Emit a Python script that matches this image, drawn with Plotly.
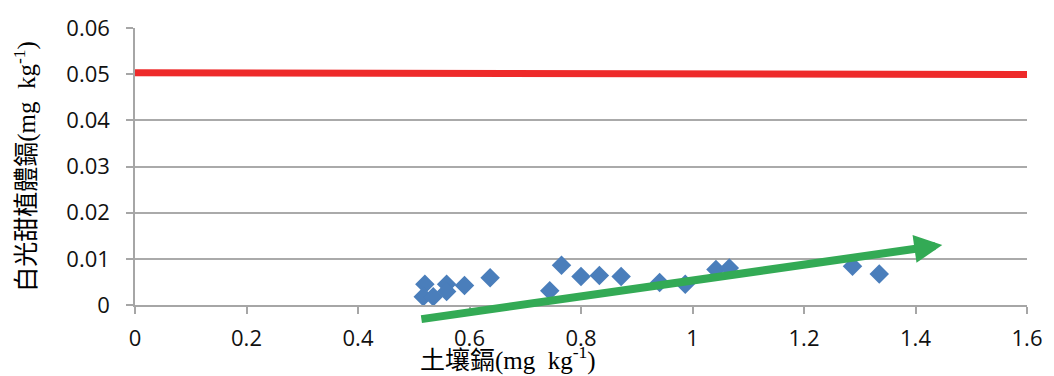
import plotly.graph_objects as go

# Soil Cd (x) vs plant Cd (y)
soil_cd = [0.52, 0.517, 0.535, 0.559, 0.559, 0.591, 0.637, 0.744, 0.765, 0.800,
           0.833, 0.872, 0.941, 0.987, 1.042, 1.066, 1.287, 1.335]
plant_cd = [0.0045, 0.0018, 0.0018, 0.0045, 0.0029, 0.0042, 0.0059, 0.0031, 0.0086, 0.0062,
            0.0064, 0.0062, 0.0049, 0.0045, 0.0077, 0.0080, 0.0084, 0.0067]

# Red limit line
limit_x = [-0.01, 1.615]
limit_y = [0.0503, 0.0499]

# Green trend arrow (start, tip)
trend_x = [0.511, 1.448]
trend_y = [-0.0031, 0.0130]

x_ticks = [0, 0.2, 0.4, 0.6, 0.8, 1, 1.2, 1.4, 1.6]
y_ticks = [0, 0.01, 0.02, 0.03, 0.04, 0.05, 0.06]

fig = go.Figure()
fig.add_trace(go.Scatter(x=limit_x, y=limit_y, mode="lines",
                         line=dict(color="#EE2A2A", width=7), showlegend=False,
                         hoverinfo="skip"))
fig.add_trace(go.Scatter(x=soil_cd, y=plant_cd, mode="markers",
                         marker=dict(symbol="diamond", size=15, color="#4A7EBB"),
                         showlegend=False, cliponaxis=False))

fig.add_annotation(x=trend_x[1], y=trend_y[1], ax=trend_x[0], ay=trend_y[0],
                   xref="x", yref="y", axref="x", ayref="y", text="",
                   showarrow=True, arrowhead=2, arrowsize=0.7, arrowwidth=8,
                   arrowcolor="#33AA55")

title_font = dict(family="Liberation Serif, Noto Sans CJK TC", size=25, color="#000")
fig.add_annotation(x=-0.123, y=0.5, xref="paper", yref="paper", xanchor="center", yanchor="middle",
                   text="白光甜植體鎘(mg  kg<sup>-1</sup>)", textangle=-90, showarrow=False,
                   font=title_font)
fig.add_annotation(x=0.418, y=-0.192, xref="paper", yref="paper", xanchor="center", yanchor="middle",
                   text="土壤鎘(mg  kg<sup>-1</sup>)", showarrow=False,
                   font=title_font)

axis_font = dict(family="Open Sans, Liberation Sans, sans-serif", size=22, color="#111")
fig.update_xaxes(range=[0, 1.6], tickvals=x_ticks, ticktext=[str(v) for v in x_ticks],
                 showgrid=False, zeroline=False, showline=True, linecolor="#A6A6A6", linewidth=1.5,
                 ticks="outside", ticklen=7, tickcolor="#A6A6A6", tickwidth=1.5,
                 ticklabelstandoff=6, tickfont=axis_font)
fig.update_yaxes(range=[0, 0.06], tickvals=y_ticks, ticktext=[str(v) for v in y_ticks],
                 showgrid=True, gridcolor="#AAAAAA", gridwidth=1.5, zeroline=False,
                 showline=True, linecolor="#A6A6A6", linewidth=1.5,
                 ticks="outside", ticklen=7, tickcolor="#A6A6A6", tickwidth=1.5,
                 ticklabelstandoff=12, tickfont=axis_font)
fig.update_layout(width=1054, height=376, margin=dict(l=135, r=26, t=18, b=71),
                  plot_bgcolor="white", paper_bgcolor="white")
fig.write_html("out.html")
